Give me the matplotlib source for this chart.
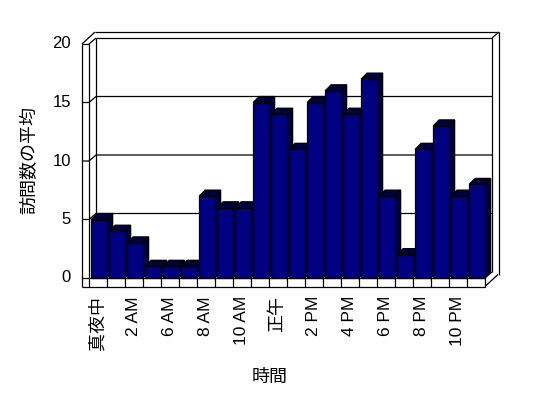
import matplotlib
matplotlib.use("Agg")
import matplotlib.pyplot as plt
from matplotlib.patches import Polygon, Rectangle

plt.rcParams["font.family"] = ["Liberation Sans", "Noto Sans CJK JP"]

# データ (4 AM / 5 AM は元データに無い)
hours = ["真夜中", "1 AM", "2 AM", "3 AM", "6 AM", "7 AM", "8 AM", "9 AM",
         "10 AM", "11 AM", "正午", "1 PM", "2 PM", "3 PM", "4 PM", "5 PM",
         "6 PM", "7 PM", "8 PM", "9 PM", "10 PM", "11 PM"]
visits = [5, 4, 3, 1, 1, 1, 7, 6, 6, 15, 14, 11, 15, 16, 14, 17, 7, 2, 11, 13, 7, 8]
yticks = [0, 5, 10, 15, 20]

# 画面上の寸法 (ピクセル)
W, H = 548, 398
PX, PY = 18.0, 11.7      # 1カテゴリ / 1単位あたりのピクセル
X0, Y0 = 89, 278         # 原点のピクセル位置

n = len(visits)
ymax = yticks[-1]
DX, DY = 6 / PX, 6 / PY      # 棒の奥行き
WX, WY = 7 / PX, 6 / PY      # 背面の位置
TX = 7 / PX                  # 壁の厚み
OX, OY = 13 / PX, 12 / PY    # 外側の奥行き
FL = 8.5 / PY                # 床の厚み

fig = plt.figure(figsize=(W / 100, H / 100), dpi=100)
ax = fig.add_axes([0, 0, 1, 1])
ax.set_xlim(-X0 / PX, (W - X0) / PX)
ax.set_ylim((Y0 - H) / PY, Y0 / PY)
ax.axis("off")

lw = 0.9
k = dict(color="black", lw=lw, solid_capstyle="butt")

# 左の壁
ax.plot([-TX, -TX], [-FL, ymax], **k)
ax.plot([0, 0], [0, ymax], **k)
ax.plot([-TX, 0], [ymax, ymax], **k)
ax.plot([-TX, -TX + OX], [ymax, ymax + OY], **k)
ax.plot([0, WX], [ymax, ymax + WY], **k)

# 背面の壁
ax.plot([WX, n + WX], [ymax + WY, ymax + WY], **k)
ax.plot([WX, WX], [WY, ymax + WY], **k)
ax.plot([n + WX, n + WX], [WY, ymax + WY], **k)
ax.plot([-TX + OX, n + WX + TX], [ymax + OY, ymax + OY], **k)
ax.plot([n + WX + TX, n + WX + TX], [-FL + OY, ymax + OY], **k)
ax.plot([n + WX, n + WX + TX], [ymax + WY, ymax + OY], **k)

# 目盛線
for g in yticks[1:-1]:
    ax.plot([-TX, 0, WX, n + WX], [g, g, g + WY, g + WY], **k)
ax.plot([-TX, 0], [0, 0], **k)

# 床
ax.add_patch(Rectangle((0, -FL), n, FL, facecolor="white", edgecolor="black", lw=lw))
ax.plot([-TX, 0], [-FL, -FL], **k)
for i in range(1, n):
    ax.plot([i, i], [-FL, 0], **k)
ax.plot([n, n + WX], [0, WY], **k)
ax.plot([n, n + OX], [-FL, -FL + OY], **k)

# 棒
front = "#000080"
dark = "#000040"
for i, v in enumerate(visits):
    x0, x1 = i + 0.12, i + 0.98
    side = Polygon([(x1, 0), (x1 + DX, DY), (x1 + DX, v + DY), (x1, v)],
                   facecolor=dark, edgecolor="black", lw=lw, zorder=3 + i)
    top = Polygon([(x0, v), (x1, v), (x1 + DX, v + DY), (x0 + DX, v + DY)],
                  facecolor=dark, edgecolor="black", lw=lw, zorder=3 + i)
    ax.add_patch(side)
    ax.add_patch(top)
    ax.bar(x0, v, width=x1 - x0, align="edge", color=front,
           edgecolor="black", lw=lw, zorder=3 + i)

# 軸ラベル
for t in yticks:
    ax.text((71 - X0) / PX, t, str(t), ha="right", va="center", fontsize=12)
for i in range(0, n, 2):
    ax.text(i + 0.5, (Y0 - 296) / PY, hours[i], rotation=90, ha="center",
            va="top", fontsize=12.5 if hours[i].isascii() else 13)
ax.text((30 - X0) / PX, (Y0 - 160) / PY, "訪問数の平均", rotation=90,
        ha="center", va="center", fontsize=13)
ax.text((270 - X0) / PX, (Y0 - 377) / PY, "時間", ha="center", va="center",
        fontsize=13)

fig.savefig("out.png", dpi=100)
